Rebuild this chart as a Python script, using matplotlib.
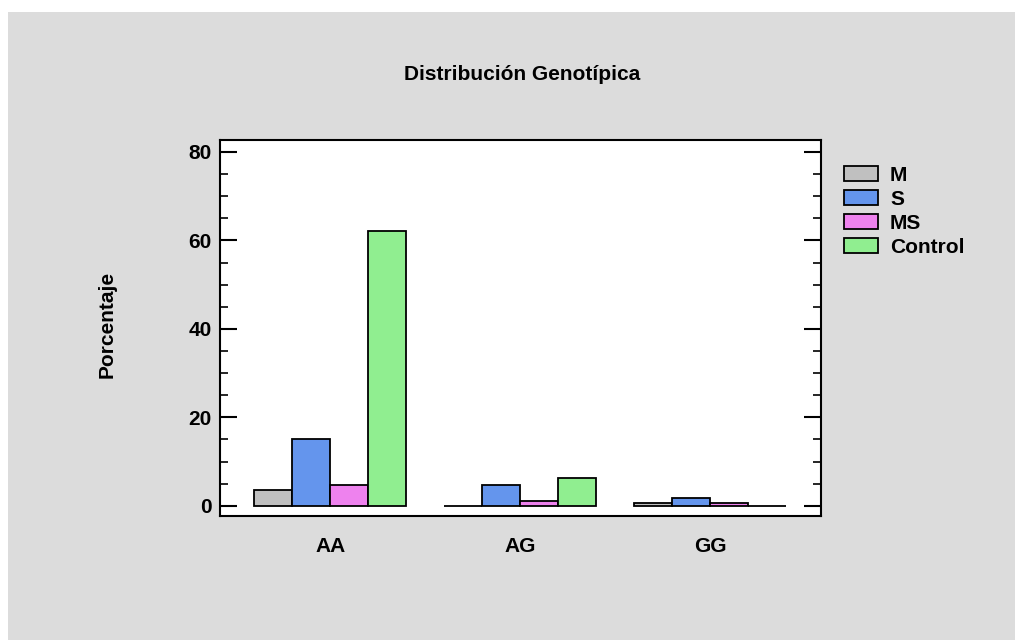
import matplotlib
matplotlib.use("Agg")
import matplotlib.pyplot as plt
import numpy as np
from matplotlib.patches import Rectangle
from matplotlib.ticker import MultipleLocator

categories = ["AA", "AG", "GG"]
series = ["M", "S", "MS", "Control"]
values_M = [3.5, 0.0, 0.7]
values_S = [15.0, 4.6, 1.7]
values_MS = [4.6, 1.1, 0.7]
values_Control = [62.2, 6.4, 0.0]
colors = ["#c0c0c0", "#6495ed", "#ee82ee", "#90ee90"]

plt.rcParams["font.family"] = ["Liberation Sans", "DejaVu Sans"]
plt.rcParams["font.weight"] = "bold"
FS = 15

fig = plt.figure(figsize=(10.15, 6.4), dpi=100)
fig.patch.set_facecolor("white")
fig.patches.append(Rectangle((8 / 1015, 0), 1 - 8 / 1015, 1 - 12 / 640,
                             transform=fig.transFigure, facecolor="#dcdcdc",
                             edgecolor="none", zorder=-10))

ax = fig.add_axes([220 / 1015, 1 - 516 / 640, 601 / 1015, 376 / 640])
ax.set_facecolor("white")

x = np.arange(len(categories))
width = 0.2
all_vals = [values_M, values_S, values_MS, values_Control]
for i, (name, vals, c) in enumerate(zip(series, all_vals, colors)):
    ax.bar(x + (i - 1.5) * width, vals, width, color=c, edgecolor="black",
           linewidth=1.3, label=name)

ax.set_xlim(-0.58, 2.584)
ax.set_ylim(-2.3, 82.7)
ax.set_xticks(x)
ax.set_xticklabels(categories, fontsize=FS, fontweight="bold")
ax.yaxis.set_major_locator(MultipleLocator(20))
ax.yaxis.set_minor_locator(MultipleLocator(5))
ax.tick_params(axis="y", which="major", direction="in", length=12, width=1.5,
               right=True, labelsize=FS, pad=6)
ax.tick_params(axis="y", which="minor", direction="in", length=6, width=1.2,
               right=True)
ax.tick_params(axis="x", length=0, pad=15)
for lbl in ax.get_yticklabels():
    lbl.set_fontweight("bold")
for sp in ax.spines.values():
    sp.set_linewidth(1.5)

fig.text(522 / 1015, 1 - 75 / 640, "Distribución Genotípica", ha="center",
         va="center", fontsize=FS, fontweight="bold")
fig.text(107 / 1015, 1 - 324 / 640, "Porcentaje", ha="center", va="center",
         rotation=90, fontsize=FS, fontweight="bold")

leg = ax.legend(loc="upper left", bbox_to_anchor=(844 / 1015, 1 - 166 / 640),
                bbox_transform=fig.transFigure, frameon=False, fontsize=FS,
                handlelength=1.63, handleheight=0.72, labelspacing=0.24,
                handletextpad=0.58, borderaxespad=0, borderpad=0)
for t in leg.get_texts():
    t.set_fontweight("bold")

fig.savefig("out.png", dpi=100)
